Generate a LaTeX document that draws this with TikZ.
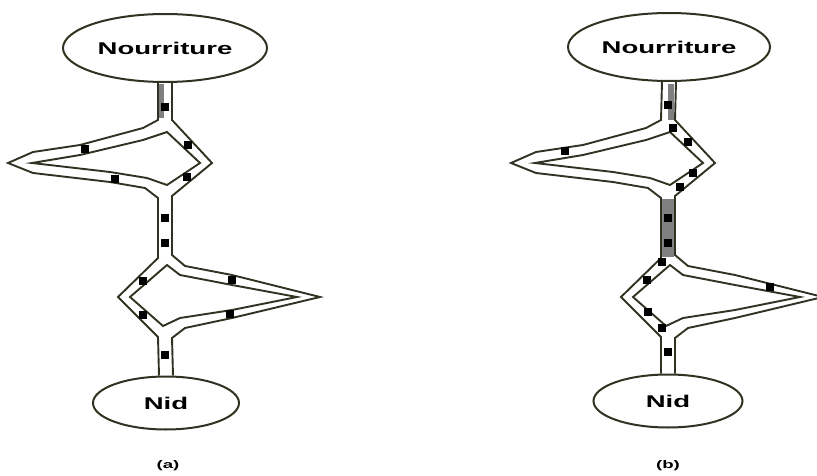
\documentclass[tikz,border=0pt]{standalone}
\usepackage{fontspec}
\setmainfont{Liberation Sans}
\usetikzlibrary{shapes.geometric}
\definecolor{trait}{RGB}{50,50,35}
\definecolor{pheromone}{RGB}{128,128,128}

\tikzset{
  canal/.style={draw=trait, line width=1.9pt, line join=miter},
  lieu/.style={ellipse, draw=trait, line width=2pt, fill=white, inner sep=0pt,
    font=\bfseries\fontsize{17}{18}\selectfont},
  fourmi/.style={fill=black},
  legende/.style={font=\bfseries\fontsize{11}{12}\selectfont, anchor=north, inner sep=1pt}
}

% les deux ponts d'un meme panneau
\newcommand{\doublepont}[1]{%
  % bords exterieurs
  \draw[canal] ([xshift=-7pt]food#1.south) -- (-7,120) -- (-22,128) -- (-85,145)
    -- (-132,152) -- (-157,163) -- (-132,173) -- (-55,182) -- (-20,188) -- (-7,198)
    -- (-7,258) -- (-47,297) -- (-7,337) -- ([xshift=-7pt]nest#1.north);
  \draw[canal] ([xshift=7pt]food#1.south) -- (7,120) -- (47,163) -- (7,196)
    -- (7,255) -- (20,266) -- (67,275) -- (155,297) -- (67,318) -- (20,328)
    -- (7,338) -- ([xshift=7pt]nest#1.north);
  % bords interieurs
  \draw[canal] (2,132) -- (35,163) -- (2,185) -- (-18,178) -- (-55,172)
    -- (-133,163) -- (-85,155) -- (-22,140) -- cycle;
  \draw[canal] (2,265) -- (15,275) -- (67,285) -- (132,297) -- (67,310)
    -- (15,318) -- (-2,326) -- (-35,297) -- cycle;
}

\begin{document}
\begin{tikzpicture}[x=1pt,y=-1pt]
  \useasboundingbox (0,0) rectangle (817,476);

  % (a) debut de l'experience
  \begin{scope}[xshift=165pt]
    \node[lieu, minimum width=204pt, minimum height=68pt] (foodA) at (0,48)
      {\scalebox{1.62}[1]{Nourriture}};
    \node[lieu, minimum width=146pt, minimum height=53pt] (nestA) at (1,403)
      {\scalebox{1.62}[1]{Nid}};
    \fill[pheromone] (-6,84) rectangle (-1,118);
    \doublepont{A}
    \foreach \x/\y in {0/107, 23/145, 22/177, -80/149, -50/179, 0/218, 0/243,
                       -22/281, -22/315, 67/280, 65/314, 0/355}
      \fill[fourmi] (\x-4,\y-4) rectangle (\x+4,\y+4);
    \node[legende] (labelA) at (3,459) {\scalebox{1.7}[1]{(a)}};
  \end{scope}

  % (b) apres renforcement du chemin court
  \begin{scope}[xshift=668pt]
    \node[lieu, minimum width=202pt, minimum height=68pt] (foodB) at (1,47)
      {\scalebox{1.62}[1]{Nourriture}};
    \node[lieu, minimum width=149pt, minimum height=53pt] (nestB) at (0,401)
      {\scalebox{1.62}[1]{Nid}};
    \fill[pheromone] (0,84) rectangle (6,120);
    \fill[pheromone] (-6,199) rectangle (6,257);
    \doublepont{B}
    \foreach \x/\y in {0/105, 5/128, 20/142, 25/173, 12/187, -103/151, 0/218, 0/243,
                       -6/262, -21/280, -20/312, -6/328, 102/287, 0/352}
      \fill[fourmi] (\x-4,\y-4) rectangle (\x+4,\y+4);
    \node[legende] (labelB) at (0,459) {\scalebox{1.7}[1]{(b)}};
  \end{scope}
\end{tikzpicture}
\end{document}
